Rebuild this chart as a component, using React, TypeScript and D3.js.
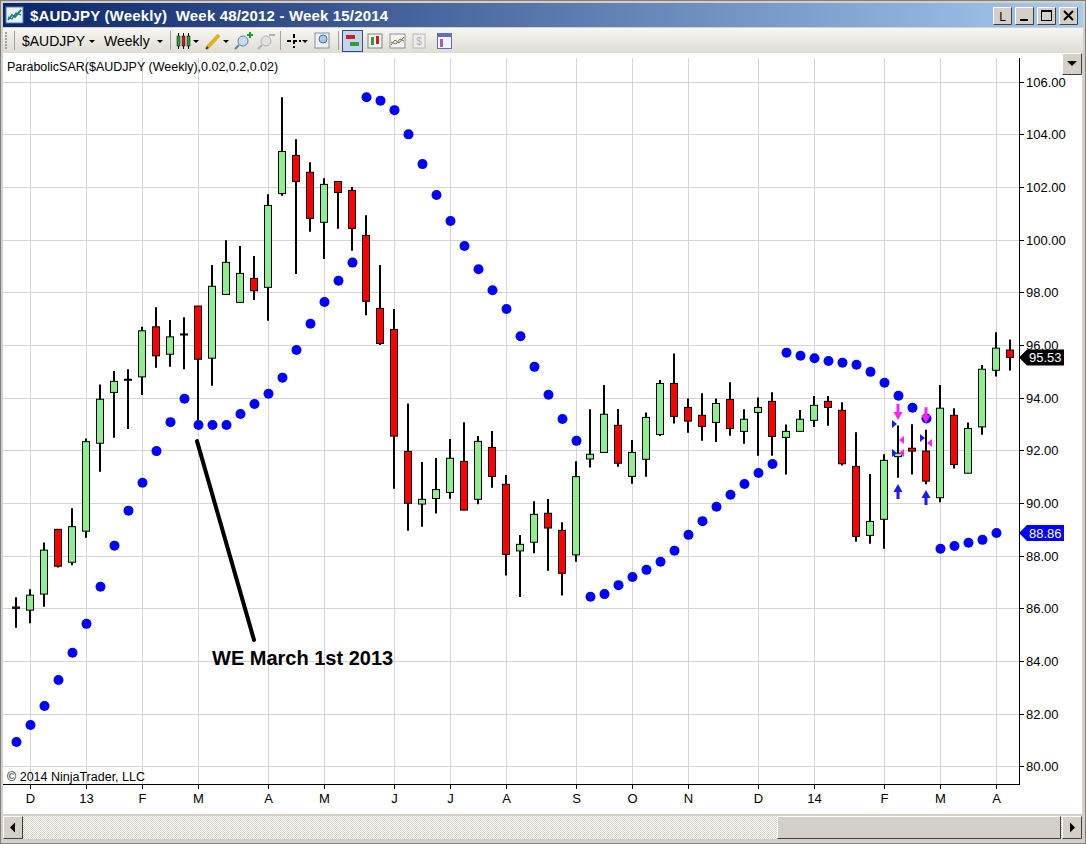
import React, { useEffect, useRef } from 'react';
import * as d3 from 'd3';

// Weekly AUDJPY candles, Week 48/2012 .. Week 15/2014
const opens = [
  86.05, 85.93, 86.54, 89.0, 87.75, 88.93, 92.27, 94.2, 94.66, 94.79,
  96.69, 95.65, 96.38, 97.48, 95.5, 97.92, 97.62, 98.53, 98.19, 101.75,
  103.2, 102.56, 100.66, 102.21, 101.87, 100.16, 97.39, 96.59, 91.96, 89.96,
  90.17, 90.4, 91.58, 90.14, 92.11, 90.71, 88.18, 88.51, 89.61, 88.96,
  88.03, 91.67, 91.92, 92.95, 91.01, 91.66, 92.6, 94.54, 93.63, 93.33,
  93.06, 93.93, 92.72, 93.44, 93.86, 92.49, 92.72, 93.14, 93.86, 93.52,
  91.39, 88.77, 89.38, 91.76, 92.08, 91.97, 90.2, 93.33, 91.13, 92.89,
  95.04, 95.81,
];
const highs = [
  86.42, 86.72, 88.5, 89.0, 89.8, 92.45, 94.5, 95.01, 95.08, 96.69,
  97.43, 96.95, 97.05, 97.48, 99.04, 99.98, 99.76, 99.38, 101.73, 105.41,
  103.81, 102.94, 102.33, 102.21, 102.0, 100.93, 99.04, 97.37, 93.78, 91.56,
  91.71, 92.43, 93.07, 92.54, 92.73, 91.06, 88.78, 90.07, 90.15, 89.27,
  91.59, 93.56, 94.48, 93.57, 92.39, 93.44, 94.67, 95.68, 93.97, 94.17,
  93.97, 94.59, 93.56, 94.01, 94.21, 92.98, 93.53, 94.06, 94.06, 93.83,
  92.69, 91.1, 91.85, 92.94, 92.99, 92.78, 94.48, 93.6, 93.06, 95.24,
  96.48, 96.21,
];
const lows = [
  85.26, 85.43, 86.06, 87.55, 87.64, 88.68, 91.19, 92.48, 92.81, 94.1,
  95.14, 95.17, 95.08, 92.8, 94.45, 97.92, 97.62, 97.71, 96.92, 101.67,
  98.7, 100.3, 99.27, 100.42, 99.58, 97.13, 96.0, 90.54, 88.95, 89.1,
  89.6, 90.16, 89.73, 89.95, 90.58, 87.25, 86.43, 88.09, 87.43, 86.49,
  87.77, 91.35, 91.92, 91.38, 90.73, 91.0, 92.54, 93.02, 92.67, 92.36,
  92.32, 92.55, 92.25, 91.79, 91.79, 91.08, 92.72, 92.89, 92.93, 91.42,
  88.53, 88.45, 88.26, 90.96, 91.08, 90.71, 90.03, 91.31, 91.13, 92.59,
  94.8, 95.03,
];
const closes = [
  86.0, 86.5, 88.21, 87.6, 89.1, 92.33, 93.94, 94.62, 94.7, 96.54,
  95.59, 96.31, 96.42, 95.46, 98.23, 99.14, 98.72, 98.06, 101.3, 103.35,
  102.21, 100.81, 102.1, 101.79, 100.43, 97.66, 96.06, 92.54, 89.99, 90.14,
  90.51, 91.7, 89.73, 92.34, 91.01, 88.05, 88.43, 89.57, 89.05, 87.33,
  91.0, 91.85, 93.37, 91.51, 91.92, 93.25, 94.54, 93.29, 93.11, 92.91,
  93.78, 92.83, 93.18, 93.63, 92.53, 92.72, 93.18, 93.71, 93.63, 91.49,
  88.73, 89.3, 91.62, 91.89, 91.97, 90.83, 93.6, 91.46, 92.83, 95.08,
  95.88, 95.53,
];

// ParabolicSAR(0.02, 0.2, 0.02), last bar has no dot drawn
const sar: (number | null)[] = [
  80.92, 81.57, 82.29, 83.28, 84.31, 85.41, 86.82, 88.38, 89.71, 90.77,
  91.97, 93.07, 93.96, 92.96, 92.96, 92.96, 93.38, 93.76, 94.15, 94.76,
  95.81, 96.81, 97.63, 98.44, 99.13, 105.41, 105.28, 104.92, 104.0, 102.87,
  101.7, 100.71, 99.76, 98.88, 98.08, 97.37, 96.33, 95.17, 94.11, 93.19,
  92.36, 86.44, 86.54, 86.88, 87.19, 87.46, 87.77, 88.19, 88.79, 89.31,
  89.86, 90.31, 90.72, 91.14, 91.48, 95.71, 95.59, 95.5, 95.39, 95.33,
  95.25, 94.98, 94.57, 94.07, 93.62, 93.21, 88.26, 88.37, 88.49, 88.6,
  88.86, null,
];

const monthTicks = [1, 5, 9, 13, 18, 22, 27, 31, 35, 40, 44, 48, 53, 57, 62, 66, 70];
const monthLabels = ['D', '13', 'F', 'M', 'A', 'M', 'J', 'J', 'A', 'S', 'O', 'N', 'D', '14', 'F', 'M', 'A'];
const priceTicks = [80, 82, 84, 86, 88, 90, 92, 94, 96, 98, 100, 102, 104, 106];

// trade markers
const downArrows = [{ i: 63, p: 93.15 }, { i: 65, p: 93.03 }];
const upArrows = [{ i: 63, p: 90.72 }, { i: 65, p: 90.49 }];
const entryTicks = [{ i: 63, p: 93.0 }, { i: 63, p: 91.9 }, { i: 65, p: 92.47 }];
const exitTicks = [{ i: 63, p: 92.39 }, { i: 63, p: 91.9 }, { i: 65, p: 92.28 }];

// annotation
const noteLine = [{ i: 13, p: 92.35 }, { i: 17, p: 84.8 }];
const noteText = { i: 14, p: 83.85, text: 'WE March 1st 2013' };

const W = 1086;
const H = 844;
const FONT = '"Liberation Sans", Arial, sans-serif';

const App: React.FC = () => {
  const ref = useRef<SVGSVGElement>(null);

  useEffect(() => {
    document.body.style.margin = '0';
    const svg = d3.select(ref.current);
    svg.selectAll('*').remove();

    const left = 3, right = 1019, bottom = 784;
    const x = d3.scaleLinear().domain([0, 71]).range([16, 1010]);
    const y = d3.scaleLinear().domain([80, 106]).range([766.3, 81.7]);

    const defs = svg.append('defs');
    const tg = defs.append('linearGradient').attr('id', 'titleGrad');
    tg.append('stop').attr('offset', 0).attr('stop-color', '#0a246a');
    tg.append('stop').attr('offset', 1).attr('stop-color', '#a6caf0');
    const bg = defs.append('linearGradient').attr('id', 'barGrad').attr('x1', 0).attr('x2', 0).attr('y1', 0).attr('y2', 1);
    bg.append('stop').attr('offset', 0).attr('stop-color', '#f7f6f2');
    bg.append('stop').attr('offset', 1).attr('stop-color', '#dedcd3');
    const pat = defs.append('pattern').attr('id', 'hatch').attr('width', 2).attr('height', 2).attr('patternUnits', 'userSpaceOnUse');
    pat.append('rect').attr('width', 2).attr('height', 2).attr('fill', '#ffffff');
    pat.append('rect').attr('width', 1).attr('height', 1).attr('fill', '#d4d0c8');
    pat.append('rect').attr('x', 1).attr('y', 1).attr('width', 1).attr('height', 1).attr('fill', '#d4d0c8');

    // window frame
    svg.append('rect').attr('width', W).attr('height', H).attr('fill', '#d4d0c8');
    svg.append('rect').attr('x', 0.5).attr('y', 0.5).attr('width', W - 1).attr('height', H - 1)
      .attr('fill', 'none').attr('stroke', '#808080');
    svg.append('rect').attr('x', 3).attr('y', 3).attr('width', W - 6).attr('height', 24).attr('fill', 'url(#titleGrad)');

    // title icon
    const ic = svg.append('g').attr('transform', 'translate(6,7)');
    ic.append('rect').attr('width', 17).attr('height', 16).attr('fill', '#e8f0f8').attr('stroke', '#5a7ab0');
    ic.append('polyline').attr('points', '2,13 6,8 9,10 15,3').attr('fill', 'none').attr('stroke', '#1a9a3a').attr('stroke-width', 2);
    ic.append('polyline').attr('points', '2,10 6,12 10,6 15,8').attr('fill', 'none').attr('stroke', '#2a5ad0').attr('stroke-width', 1.2);

    svg.append('text').attr('x', 30).attr('y', 21).attr('fill', '#fff').attr('font-family', FONT)
      .attr('font-weight', 'bold').attr('font-size', 15).attr('textLength', 358)
      .text('$AUDJPY (Weekly)\u00a0 Week 48/2012 - Week 15/2014');

    const button3d = (g: d3.Selection<SVGGElement, unknown, null, undefined>, bx: number, by: number, bw: number, bh: number) => {
      g.append('rect').attr('x', bx).attr('y', by).attr('width', bw).attr('height', bh).attr('fill', '#d4d0c8');
      g.append('path').attr('d', `M${bx + 0.5},${by + bh - 0.5}V${by + 0.5}H${bx + bw - 0.5}`).attr('fill', 'none').attr('stroke', '#ffffff');
      g.append('path').attr('d', `M${bx + 0.5},${by + bh - 0.5}H${bx + bw - 0.5}V${by + 0.5}`).attr('fill', 'none').attr('stroke', '#404040');
    };

    const tb = svg.append('g');
    [993, 1015, 1037, 1059].forEach((bx) => button3d(tb, bx, 7, 19, 18));
    tb.append('text').attr('x', 1002.5).attr('y', 21).attr('text-anchor', 'middle').attr('font-family', FONT)
      .attr('font-size', 12).text('L');
    tb.append('rect').attr('x', 1020).attr('y', 19).attr('width', 8).attr('height', 2).attr('fill', '#000');
    tb.append('rect').attr('x', 1041.5).attr('y', 10.5).attr('width', 10).attr('height', 10).attr('fill', 'none').attr('stroke', '#000');
    tb.append('line').attr('x1', 1041.5).attr('x2', 1051.5).attr('y1', 11.5).attr('y2', 11.5).attr('stroke', '#000');
    tb.append('path').attr('d', 'M1064,11L1073,20M1073,11L1064,20').attr('stroke', '#000').attr('stroke-width', 2);

    // toolbar
    svg.append('rect').attr('x', 3).attr('y', 28).attr('width', W - 6).attr('height', 25).attr('fill', 'url(#barGrad)');
    const tool = svg.append('g').attr('font-family', FONT).attr('font-size', 14);
    d3.range(0, 6).forEach((k) => tool.append('rect').attr('x', 5).attr('y', 32 + k * 3).attr('width', 2).attr('height', 2).attr('fill', '#a0a0a0'));
    [14, 170, 280, 338].forEach((sx) => {
      tool.append('line').attr('x1', sx + 0.5).attr('x2', sx + 0.5).attr('y1', 31).attr('y2', 50).attr('stroke', '#a0a0a0');
    });
    tool.append('text').attr('x', 22).attr('y', 46).text('$AUDJPY');
    tool.append('text').attr('x', 104).attr('y', 46).text('Weekly');
    const caret = (cx: number) => tool.append('path').attr('d', `M${cx - 3},40h6l-3,3z`).attr('fill', '#000');
    [92, 160, 196, 226, 305].forEach(caret);
    // candle icon
    [[177, '#3a9a3a'], [182, '#cc2020'], [187, '#3a9a3a']].forEach(([ix, col]) => {
      tool.append('line').attr('x1', +ix + 1.5).attr('x2', +ix + 1.5).attr('y1', 33).attr('y2', 49).attr('stroke', '#000');
      tool.append('rect').attr('x', ix as number).attr('y', 36).attr('width', 3).attr('height', 10).attr('fill', col as string).attr('stroke', '#000').attr('stroke-width', 0.5);
    });
    // pencil
    tool.append('line').attr('x1', 207).attr('y1', 48).attr('x2', 219).attr('y2', 35).attr('stroke', '#e0b020').attr('stroke-width', 4);
    tool.append('line').attr('x1', 206).attr('y1', 49).attr('x2', 208).attr('y2', 47).attr('stroke', '#503010').attr('stroke-width', 2);
    // zoom in / out
    tool.append('circle').attr('cx', 243).attr('cy', 41).attr('r', 5).attr('fill', '#c8dcf0').attr('stroke', '#6080a0');
    tool.append('line').attr('x1', 239).attr('y1', 45).attr('x2', 235).attr('y2', 49).attr('stroke', '#6080a0').attr('stroke-width', 2);
    tool.append('path').attr('d', 'M247,35h6M250,32v6').attr('stroke', '#20a020').attr('stroke-width', 2);
    tool.append('circle').attr('cx', 266).attr('cy', 41).attr('r', 5).attr('fill', '#e0e0e0').attr('stroke', '#b0b0b0');
    tool.append('line').attr('x1', 262).attr('y1', 45).attr('x2', 258).attr('y2', 49).attr('stroke', '#b0b0b0').attr('stroke-width', 2);
    tool.append('path').attr('d', 'M269,35h6').attr('stroke', '#b0b0b0').attr('stroke-width', 2);
    // crosshair
    tool.append('path').attr('d', 'M287,41h14M294,34v14').attr('stroke', '#000').attr('stroke-width', 2).attr('stroke-dasharray', '4,2');
    // magnifier
    tool.append('rect').attr('x', 315).attr('y', 33).attr('width', 14).attr('height', 15).attr('fill', '#f0f0f0').attr('stroke', '#8090a0');
    tool.append('circle').attr('cx', 323).attr('cy', 39).attr('r', 4).attr('fill', '#a8c8e8').attr('stroke', '#5070a0');
    // selected button
    tool.append('rect').attr('x', 342.5).attr('y', 30.5).attr('width', 20).attr('height', 21).attr('fill', '#c4d4ec').attr('stroke', '#314f7c');
    tool.append('rect').attr('x', 346).attr('y', 35).attr('width', 9).attr('height', 4).attr('fill', '#cc2020');
    tool.append('rect').attr('x', 350).attr('y', 42).attr('width', 9).attr('height', 4).attr('fill', '#3a9a3a');
    tool.append('rect').attr('x', 368).attr('y', 34).attr('width', 14).attr('height', 14).attr('fill', '#f4f4f4').attr('stroke', '#808080');
    tool.append('rect').attr('x', 371).attr('y', 37).attr('width', 3).attr('height', 8).attr('fill', '#3a9a3a');
    tool.append('rect').attr('x', 376).attr('y', 36).attr('width', 3).attr('height', 8).attr('fill', '#cc2020');
    tool.append('rect').attr('x', 390).attr('y', 34).attr('width', 15).attr('height', 14).attr('fill', '#f4f4f4').attr('stroke', '#909090');
    tool.append('polyline').attr('points', '391,45 395,40 399,43 404,37').attr('fill', 'none').attr('stroke', '#d04040');
    tool.append('polyline').attr('points', '391,42 396,44 400,39 404,41').attr('fill', 'none').attr('stroke', '#40a040');
    tool.append('rect').attr('x', 413).attr('y', 34).attr('width', 12).attr('height', 14).attr('fill', '#ececec').attr('stroke', '#b8b8b8');
    tool.append('text').attr('x', 419).attr('y', 45).attr('text-anchor', 'middle').attr('font-size', 10).attr('fill', '#b0b0b0').text('$');
    tool.append('rect').attr('x', 437.5).attr('y', 33.5).attr('width', 14).attr('height', 15).attr('fill', '#f4f4ff').attr('stroke', '#6070b0');
    tool.append('rect').attr('x', 438).attr('y', 34).attr('width', 14).attr('height', 3).attr('fill', '#6070c0');
    tool.append('rect').attr('x', 440).attr('y', 39).attr('width', 3).attr('height', 8).attr('fill', '#a060c0');

    // chart panel
    svg.append('rect').attr('x', 3).attr('y', 53).attr('width', 1079).attr('height', 761).attr('fill', '#ffffff');

    const grid = svg.append('g').attr('stroke', '#d4d4d4').attr('stroke-width', 1);
    priceTicks.forEach((p) => {
      const yy = Math.round(y(p)) + 0.5;
      grid.append('line').attr('x1', left).attr('x2', right).attr('y1', yy).attr('y2', yy);
    });
    monthTicks.forEach((i) => {
      const xx = x(i) + 0.5;
      grid.append('line').attr('x1', xx).attr('x2', xx).attr('y1', 58).attr('y2', bottom);
    });

    svg.append('text').attr('x', 7).attr('y', 71).attr('font-family', FONT).attr('font-size', 12.5)
      .attr('fill', '#000').text('ParabolicSAR($AUDJPY (Weekly),0.02,0.2,0.02)');
    svg.append('text').attr('x', 7).attr('y', 781).attr('font-family', FONT).attr('font-size', 12.5)
      .attr('fill', '#000').text('\u00a9 2014 NinjaTrader, LLC');

    // candles
    const bars = opens.map((o, i) => ({ i, o, h: highs[i], l: lows[i], c: closes[i] }));
    const cg = svg.append('g');
    cg.selectAll('line.wick').data(bars).enter().append('line')
      .attr('class', 'wick')
      .attr('x1', (d) => x(d.i)).attr('x2', (d) => x(d.i))
      .attr('y1', (d) => y(d.h)).attr('y2', (d) => y(d.l))
      .attr('stroke', '#000').attr('stroke-width', 2);
    cg.selectAll('rect.body').data(bars).enter().append('rect')
      .attr('class', 'body')
      .attr('x', (d) => x(d.i) - 3.5)
      .attr('width', 7)
      .attr('y', (d) => y(Math.max(d.o, d.c)))
      .attr('height', (d) => Math.max(1, Math.abs(y(d.o) - y(d.c))))
      .attr('fill', (d) => (d.c >= d.o ? '#90ee90' : '#ff0000'))
      .attr('stroke', '#000').attr('stroke-width', 1);

    // SAR dots
    const dots = sar.map((v, i) => ({ i, v })).filter((d) => d.v !== null) as { i: number; v: number }[];
    svg.append('g').selectAll('circle').data(dots).enter().append('circle')
      .attr('cx', (d) => x(d.i) + 0.5).attr('cy', (d) => y(d.v)).attr('r', 5).attr('fill', '#0000ff');

    // trade markers
    const mk = svg.append('g');
    downArrows.forEach((d) => {
      const cx = x(d.i), ty = y(d.p);
      mk.append('path').attr('d', `M${cx - 1.5},${ty - 16}h3v8h3L${cx},${ty}L${cx - 4.5},${ty - 8}h3z`).attr('fill', '#ff22ff');
    });
    upArrows.forEach((d) => {
      const cx = x(d.i), ty = y(d.p);
      mk.append('path').attr('d', `M${cx - 1.5},${ty + 15}h3v-7h3L${cx},${ty}L${cx - 4.5},${ty + 8}h3z`).attr('fill', '#1a1aff');
    });
    entryTicks.forEach((d) => {
      const cx = x(d.i), py = y(d.p);
      mk.append('path').attr('d', `M${cx - 6},${py - 4}L${cx - 1},${py}L${cx - 6},${py + 4}z`).attr('fill', '#1a1aff');
    });
    exitTicks.forEach((d) => {
      const cx = x(d.i), py = y(d.p);
      mk.append('path').attr('d', `M${cx + 6},${py - 4}L${cx + 1},${py}L${cx + 6},${py + 4}z`).attr('fill', '#ff22ff');
    });

    // annotation
    svg.append('line')
      .attr('x1', x(noteLine[0].i) - 1).attr('y1', y(noteLine[0].p))
      .attr('x2', x(noteLine[1].i)).attr('y2', y(noteLine[1].p))
      .attr('stroke', '#000').attr('stroke-width', 4).attr('stroke-linecap', 'round');
    svg.append('text').attr('x', x(noteText.i)).attr('y', y(noteText.p))
      .attr('font-family', FONT).attr('font-weight', 'bold').attr('font-size', 20)
      .attr('fill', '#000').text(noteText.text);

    // axes
    const ax = svg.append('g').attr('font-family', FONT).attr('font-size', 13).attr('fill', '#000');
    ax.append('line').attr('x1', right + 0.5).attr('x2', right + 0.5).attr('y1', 58).attr('y2', bottom + 0.5).attr('stroke', '#000');
    ax.append('line').attr('x1', left).attr('x2', right + 1).attr('y1', bottom + 0.5).attr('y2', bottom + 0.5).attr('stroke', '#000');
    priceTicks.forEach((p) => {
      const yy = Math.round(y(p)) + 0.5;
      ax.append('line').attr('x1', right).attr('x2', right + 5).attr('y1', yy).attr('y2', yy).attr('stroke', '#000');
      ax.append('text').attr('x', right + 7).attr('y', yy).attr('dominant-baseline', 'central').text(d3.format('.2f')(p));
    });
    monthTicks.forEach((i, k) => {
      const xx = x(i) + 0.5;
      ax.append('line').attr('x1', xx).attr('x2', xx).attr('y1', bottom).attr('y2', bottom + 5).attr('stroke', '#000');
      ax.append('text').attr('x', xx).attr('y', bottom + 19).attr('text-anchor', 'middle').text(monthLabels[k]);
    });

    // last price / last SAR tags
    const lastSar = dots[dots.length - 1].v;
    const tag = (v: number, fill: string) => {
      const yy = y(v);
      ax.append('path').attr('d', `M${right},${yy}L${right + 8},${yy - 8}H1064V${yy + 8}H${right + 8}Z`).attr('fill', fill);
      ax.append('text').attr('x', right + 10).attr('y', yy).attr('dominant-baseline', 'central')
        .attr('fill', '#fff').text(d3.format('.2f')(v));
    };
    tag(closes[closes.length - 1], '#000000');
    tag(lastSar, '#0000ff');

    // drop-down button in top-right corner
    const dd = svg.append('g');
    button3d(dd, 1062, 53, 20, 22);
    dd.append('path').attr('d', 'M1067,61h10l-5,5z').attr('fill', '#000');

    // horizontal scrollbar
    const sb = svg.append('g');
    sb.append('rect').attr('x', 3).attr('y', 816).attr('width', 1079).attr('height', 23).attr('fill', 'url(#hatch)');
    button3d(sb, 3, 816, 20, 23);
    sb.append('path').attr('d', 'M10,827.5l5,-5v10z').attr('fill', '#000');
    button3d(sb, 777, 816, 284, 23);
    button3d(sb, 1062, 816, 20, 23);
    sb.append('path').attr('d', 'M1075,827.5l-5,-5v10z').attr('fill', '#000');
  }, []);

  return (
    <div style={{ width: W, height: H }}>
      <svg ref={ref} width={W} height={H} style={{ display: 'block' }} />
    </div>
  );
};

export default App;
